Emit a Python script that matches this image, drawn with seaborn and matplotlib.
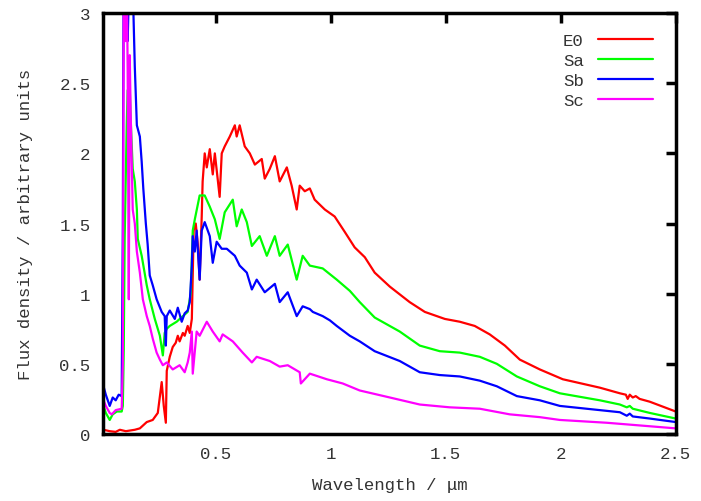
import pandas as pd
import seaborn as sns
import matplotlib
matplotlib.use("Agg")
import matplotlib.pyplot as plt

# spectra (wavelength in micron, flux arbitrary)
e0_wl = [0.012, 0.039, 0.065, 0.083, 0.109, 0.148, 0.17, 0.2, 0.226, 0.248, 0.265, 0.274, 0.283, 0.287,
         0.3, 0.313, 0.326, 0.335, 0.343, 0.357, 0.365, 0.378, 0.387, 0.396, 0.404, 0.413, 0.422, 0.43,
         0.439, 0.443, 0.452, 0.461, 0.474, 0.487, 0.496, 0.517, 0.526, 0.539, 0.561, 0.583, 0.591, 0.604,
         0.626, 0.648, 0.67, 0.7, 0.713, 0.735, 0.757, 0.778, 0.809, 0.83, 0.852, 0.865, 0.887, 0.909,
         0.93, 0.974, 1.017, 1.061, 1.104, 1.148, 1.191, 1.257, 1.343, 1.409, 1.496, 1.561, 1.626, 1.691,
         1.757, 1.822, 1.909, 2.009, 2.17, 2.257, 2.283, 2.291, 2.3, 2.313, 2.326, 2.343, 2.387, 2.5]
e0_flux = [0.03, 0.02, 0.015, 0.03, 0.02, 0.03, 0.04, 0.085, 0.1, 0.15, 0.37, 0.2, 0.08, 0.45,
           0.55, 0.62, 0.65, 0.7, 0.66, 0.72, 0.7, 0.77, 0.72, 0.82, 1.45, 1.5, 1.35, 1.1,
           1.55, 1.8, 2.0, 1.9, 2.03, 1.85, 2.0, 1.69, 2.0, 2.05, 2.12, 2.2, 2.12, 2.2,
           2.05, 2.0, 1.92, 1.96, 1.82, 1.89, 1.98, 1.8, 1.9, 1.77, 1.6, 1.77, 1.73, 1.75,
           1.67, 1.6, 1.55, 1.44, 1.33, 1.26, 1.15, 1.05, 0.94, 0.87, 0.82, 0.80, 0.77, 0.71,
           0.63, 0.53, 0.46, 0.39, 0.33, 0.29, 0.28, 0.25, 0.28, 0.26, 0.27, 0.25, 0.23, 0.16]

sa_wl = [0.012, 0.022, 0.039, 0.052, 0.07, 0.091, 0.096, 0.1, 0.104, 0.113, 0.117, 0.126, 0.13, 0.139,
         0.148, 0.157, 0.161, 0.178, 0.2, 0.213, 0.235, 0.257, 0.27, 0.278, 0.287, 0.3, 0.33, 0.357,
         0.378, 0.391, 0.4, 0.409, 0.43, 0.452, 0.474, 0.496, 0.517, 0.539, 0.574, 0.591, 0.613, 0.635,
         0.657, 0.691, 0.722, 0.757, 0.778, 0.813, 0.852, 0.878, 0.909, 0.965, 1.026, 1.083, 1.126,
         1.191, 1.3, 1.387, 1.474, 1.561, 1.648, 1.722, 1.809, 1.909, 1.996, 2.17, 2.257, 2.287, 2.3,
         2.313, 2.387, 2.5]
sa_flux = [0.2, 0.15, 0.1, 0.14, 0.16, 0.16, 0.2, 0.6, 1.4, 2.2, 2.45, 2.47, 2.25, 1.89,
           1.8, 1.6, 1.39, 1.27, 1.06, 0.96, 0.82, 0.7, 0.56, 0.72, 0.75, 0.77, 0.8, 0.84,
           0.87, 1.0, 1.45, 1.53, 1.7, 1.7, 1.62, 1.53, 1.39, 1.58, 1.67, 1.48, 1.6, 1.51,
           1.34, 1.41, 1.27, 1.41, 1.27, 1.35, 1.1, 1.27, 1.2, 1.18, 1.1, 1.02, 0.94,
           0.83, 0.73, 0.63, 0.59, 0.58, 0.55, 0.5, 0.41, 0.34, 0.29, 0.24, 0.21, 0.19, 0.2,
           0.18, 0.15, 0.11]

sb_wl = [0.012, 0.022, 0.039, 0.052, 0.065, 0.078, 0.091, 0.096, 0.1, 0.109, 0.117, 0.126, 0.139, 0.148,
         0.157, 0.17, 0.178, 0.185, 0.196, 0.204, 0.213, 0.226, 0.243, 0.265, 0.278, 0.283, 0.287, 0.3,
         0.322, 0.335, 0.352, 0.365, 0.378, 0.387, 0.396, 0.4, 0.409, 0.417, 0.43, 0.439, 0.452, 0.474,
         0.487, 0.504, 0.526, 0.548, 0.583, 0.604, 0.635, 0.657, 0.678, 0.713, 0.757, 0.778, 0.813,
         0.852, 0.878, 0.909, 0.922, 0.965, 0.996, 1.026, 1.083, 1.126, 1.191, 1.3, 1.387, 1.474, 1.561,
         1.648, 1.722, 1.809, 1.909, 1.996, 2.17, 2.257, 2.287, 2.3, 2.313, 2.387, 2.5]
sb_flux = [0.34, 0.28, 0.2, 0.26, 0.24, 0.28, 0.27, 1.5, 3.5, 3.3, 2.8, 3.4, 3.2, 2.62,
           2.2, 2.12, 1.94, 1.75, 1.5, 1.35, 1.13, 1.06, 0.96, 0.87, 0.84, 0.63, 0.84, 0.88,
           0.82, 0.9, 0.8, 0.86, 0.88, 0.94, 1.2, 1.41, 1.3, 1.45, 1.1, 1.45, 1.51, 1.41,
           1.22, 1.37, 1.32, 1.32, 1.27, 1.2, 1.15, 1.03, 1.1, 1.01, 1.07, 0.94, 1.01,
           0.84, 0.91, 0.89, 0.87, 0.84, 0.81, 0.77, 0.70, 0.66, 0.59, 0.52, 0.44, 0.42, 0.41,
           0.38, 0.34, 0.27, 0.24, 0.2, 0.17, 0.155, 0.13, 0.145, 0.125, 0.11, 0.085]

sc_wl = [0.012, 0.022, 0.039, 0.048, 0.065, 0.091, 0.096, 0.1, 0.109, 0.113, 0.117, 0.122, 0.126, 0.13,
         0.139, 0.148, 0.157, 0.17, 0.183, 0.2, 0.213, 0.226, 0.243, 0.257, 0.27, 0.287, 0.313, 0.343,
         0.365, 0.378, 0.387, 0.396, 0.4, 0.417, 0.43, 0.461, 0.487, 0.517, 0.53, 0.574, 0.617, 0.657,
         0.678, 0.735, 0.778, 0.813, 0.865, 0.87, 0.909, 0.983, 1.052, 1.126, 1.257, 1.387, 1.517,
         1.648, 1.778, 1.909, 1.996, 2.2, 2.5]
sc_flux = [0.24, 0.2, 0.15, 0.14, 0.17, 0.18, 0.5, 3.2, 2.8, 3.3, 2.6, 0.96, 2.7, 2.3,
           1.6, 1.5, 1.3, 1.15, 0.96, 0.84, 0.77, 0.68, 0.58, 0.53, 0.49, 0.51, 0.46, 0.49,
           0.44, 0.51, 0.58, 0.73, 0.43, 0.73, 0.7, 0.8, 0.73, 0.66, 0.71, 0.66, 0.58, 0.51,
           0.55, 0.52, 0.48, 0.49, 0.44, 0.36, 0.43, 0.39, 0.36, 0.31, 0.26, 0.21, 0.19,
           0.18, 0.14, 0.12, 0.1, 0.08, 0.04]

names = ["E0", "Sa", "Sb", "Sc"]
colours = ["#ff0000", "#00ff00", "#0000ff", "#ff00ff"]

frames = []
for nm, wl, fl in zip(names, [e0_wl, sa_wl, sb_wl, sc_wl], [e0_flux, sa_flux, sb_flux, sc_flux]):
    frames.append(pd.DataFrame({"wl": wl, "flux": fl, "type": nm}))
df = pd.concat(frames, ignore_index=True)

sns.set_style("white")
plt.rcParams['font.family'] = ['Liberation Mono', 'DejaVu Sans']

fig = plt.figure(figsize=(7.01, 5.02), dpi=100)
ax = fig.add_axes([0.147, 0.1335, 0.817, 0.8385])
sns.lineplot(data=df, x="wl", y="flux", hue="type", palette=colours, sort=False,
             estimator=None, linewidth=1.6, ax=ax)

ax.set_xlim(0.01, 2.5)
ax.set_ylim(0, 3)
ax.set_xticks([0.5, 1, 1.5, 2, 2.5])
ax.set_xticklabels(["0.5", "1", "1.5", "2", "2.5"])
ax.set_yticks([0, 0.5, 1, 1.5, 2, 2.5, 3])
ax.set_yticklabels(["0", "0.5", "1", "1.5", "2", "2.5", "3"])
ax.tick_params(direction="in", length=7, width=2.5, top=True, right=True,
               labelsize=12.5, pad=9, colors="black", labelcolor="#333333")
for sp in ax.spines.values():
    sp.set_linewidth(2.5)
    sp.set_color("black")

ax.set_xlabel("Wavelength / μm", fontsize=12.5, color="#333333", labelpad=11)
ax.set_ylabel("Flux density / arbitrary units", fontsize=12.5, color="#333333", labelpad=19)

leg = ax.legend(loc="upper right", bbox_to_anchor=(0.988, 0.99), frameon=False,
                markerfirst=False, handlelength=3.2, handletextpad=0.8,
                labelspacing=0.28, fontsize=12.5)
for t in leg.get_texts():
    t.set_color("#333333")

fig.savefig("out.png", dpi=100)
